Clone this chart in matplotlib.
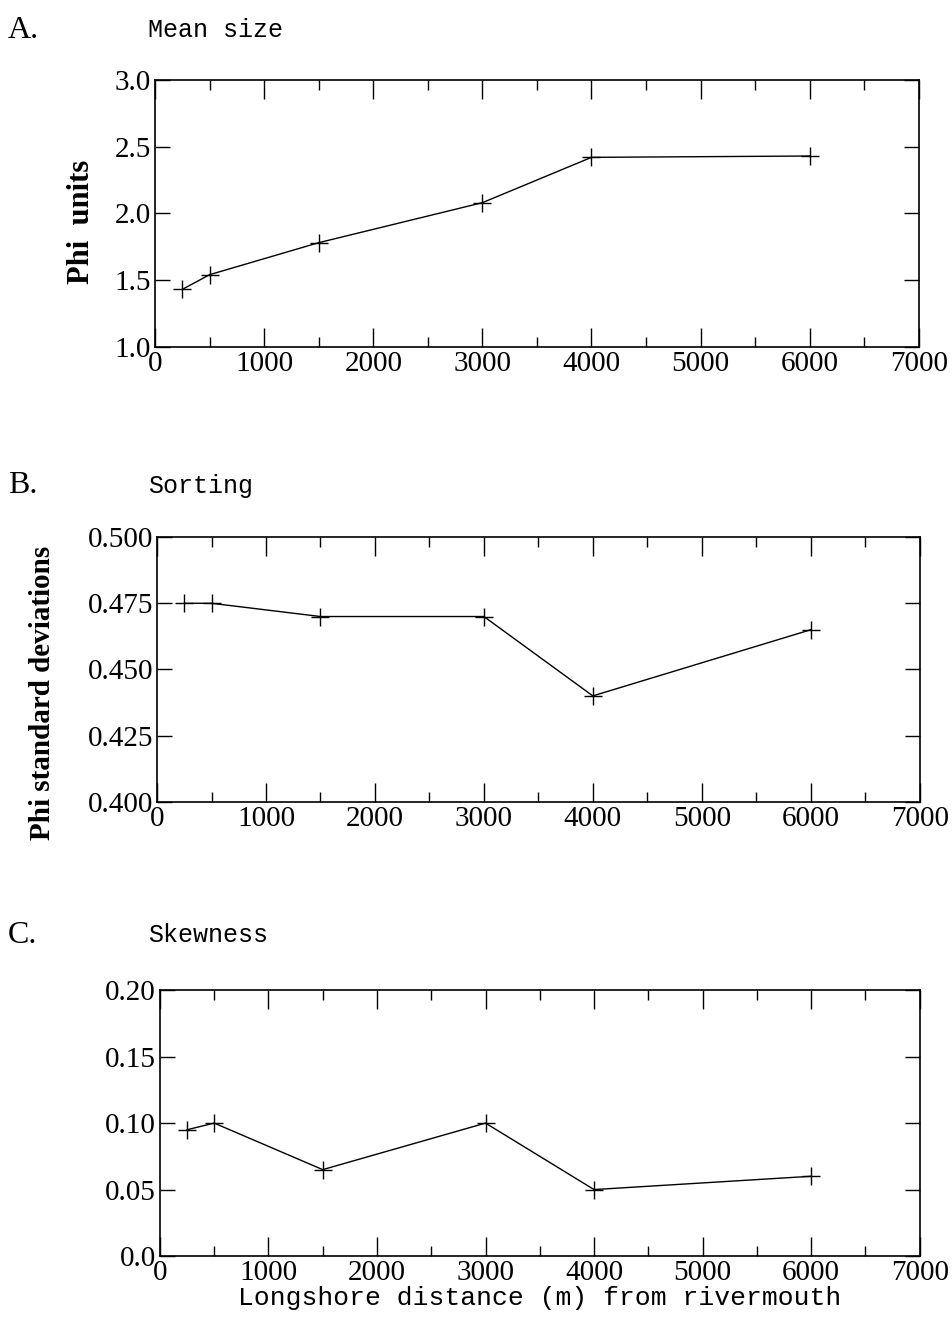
import numpy as np
import matplotlib.pyplot as plt
from matplotlib.ticker import MultipleLocator, FuncFormatter

# longshore distance of sample stations (m)
distance = [250, 500, 1500, 3000, 4000, 6000]
mean_size = [1.43, 1.54, 1.78, 2.08, 2.42, 2.43]
sorting = [0.475, 0.475, 0.470, 0.470, 0.440, 0.465]
skewness = [0.095, 0.100, 0.065, 0.100, 0.050, 0.060]

panel_letters = ["A.", "B.", "C."]
panel_titles = ["Mean size", "Sorting", "Skewness"]
y_labels = ["Phi  units", "Phi standard deviations", ""]
y_limits = [(1.0, 3.0), (0.400, 0.500), (0.0, 0.20)]
y_steps = [0.5, 0.025, 0.05]
y_formats = ["%.1f", "%.3f", "%.2f"]
x_label = "Longshore distance (m) from rivermouth"

serif = ["Liberation Serif", "DejaVu Serif"]
mono = ["Liberation Mono", "DejaVu Sans Mono"]

fig = plt.figure(figsize=(9.52, 13.23), dpi=100)

boxes = [
    [0.163, 0.738, 0.802, 0.2015],
    [0.165, 0.394, 0.801, 0.200],
    [0.168, 0.0506, 0.798, 0.201],
]
letter_y = [0.977, 0.633, 0.293]
ylabel_x = [0.086, 0.045, 0.05]
ylabel_y = [0.832, 0.476, 0.15]
ylabel_size = [22, 21, 19]

series = [mean_size, sorting, skewness]


def make_fmt(fmt):
    def f(v, pos):
        if abs(v) < 1e-12:
            return "0.0"
        return fmt % v
    return f


for i in range(3):
    ax = fig.add_axes(boxes[i])
    ax.plot(distance, series[i], color="black", lw=1.0, marker="+",
            markersize=13, markeredgewidth=1.0)
    ax.set_xlim(0, 7000)
    ax.set_ylim(*y_limits[i])
    ax.xaxis.set_major_locator(MultipleLocator(1000))
    ax.xaxis.set_minor_locator(MultipleLocator(500))
    ax.yaxis.set_major_locator(MultipleLocator(y_steps[i]))
    ax.yaxis.set_major_formatter(FuncFormatter(make_fmt(y_formats[i])))
    ax.tick_params(axis="both", which="major", direction="in", top=True,
                   right=True, length=14, width=1.0, labelsize=21, pad=3)
    ax.tick_params(axis="both", which="minor", direction="in", top=True,
                   right=True, length=7, width=1.0)
    ax.tick_params(axis="y", which="major", length=11)
    for lab in ax.get_xticklabels() + ax.get_yticklabels():
        lab.set_family(serif)
    for s in ax.spines.values():
        s.set_linewidth(1.2)
    if y_labels[i]:
        fig.text(ylabel_x[i], ylabel_y[i], y_labels[i],
                 rotation=90, ha="center", va="center",
                 fontsize=ylabel_size[i], fontweight="bold", family=serif)
    fig.text(0.008, letter_y[i], panel_letters[i], fontsize=23,
             family=serif, va="center", ha="left")
    fig.text(0.155, letter_y[i], panel_titles[i], fontsize=18,
             family=mono, va="center", ha="left")
    if i == 2:
        ax.set_xlabel(x_label, fontsize=19, family=mono, labelpad=0)

fig.savefig("out.png", dpi=100)
